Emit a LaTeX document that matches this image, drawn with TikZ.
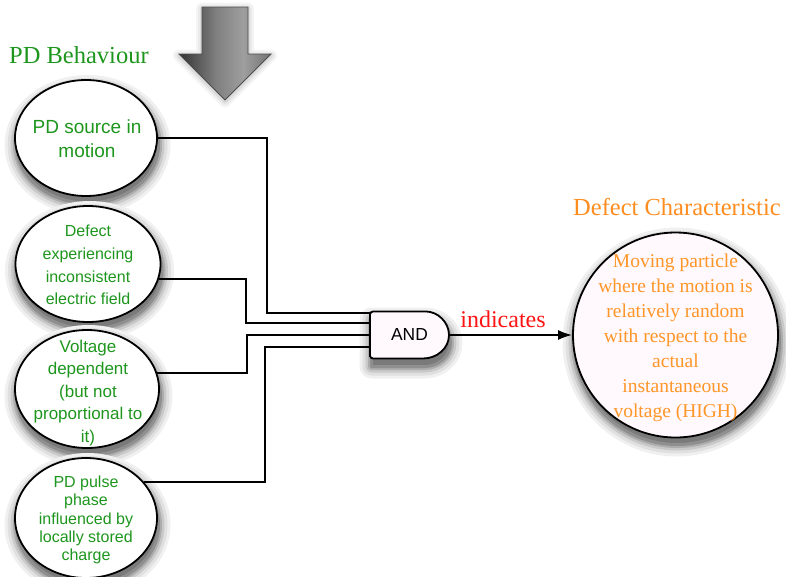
\documentclass[tikz,border=0pt]{standalone}
\usepackage{fontspec}
\setmainfont{Liberation Serif}
\setsansfont{Liberation Sans}
\usetikzlibrary{shapes.geometric,arrows.meta}

\definecolor{behgreen}{RGB}{30,150,30}
\definecolor{charorange}{RGB}{255,140,30}
\definecolor{circleorange}{RGB}{255,150,40}
\definecolor{pinkfill}{RGB}{255,248,252}
\definecolor{indred}{RGB}{255,20,20}

% grey gradient for the big downward arrow (active region 25bp..75bp)
\pgfdeclarehorizontalshading{arrowshade}{100bp}{%
  color(0bp)=(black!80); color(25bp)=(black!80);
  color(45bp)=(black!50); color(60bp)=(black!38);
  color(75bp)=(black!55); color(100bp)=(black!55)}

\tikzset{
  behaviour/.style={ellipse, draw=black, line width=1.8pt, fill=white, inner sep=0pt},
  behtext/.style={align=center, text=behgreen, font=\sffamily, inner sep=0pt},
  wire/.style={draw=black, line width=1.8pt},
}

% layered grey shadow of an oval: x, y of the centre, x radius, y radius
\newcommand{\ovalshade}[4]{%
  \foreach \w/\g in {24/6,18/12,12/21,7/32,3/44}{%
    \path[draw=black!\g, fill=black!52, line width=\w pt]
      (#1+1.5,#2+7) ellipse [x radius=#3pt, y radius=#4pt];}}

\begin{document}
\begin{tikzpicture}[x=1pt,y=-1pt]
\useasboundingbox (0,0) rectangle (786,576);

% heading and big arrow
\node[anchor=base west, text=behgreen, inner sep=0pt,
      font=\fontsize{24.5}{28}\selectfont] (pdb) at (9,63) {PD Behaviour};
\foreach \w/\g in {12/4,8/8,4/14}{%
  \path[draw=black!\g, line width=\w pt, line join=round]
    (202,8.5) -- (248,8.5) -- (248,55.5) -- (271,55.5) -- (225,101.5) -- (179,55.5)
    -- (202,55.5) -- cycle;}
\draw[draw=black!70, line width=0.8pt, shading=arrowshade]
  (202,7) -- (248,7) -- (248,54) -- (271,54) -- (225,100) -- (179,54)
  -- (202,54) -- cycle;

% shadows below the ovals and the gate
\ovalshade{86}{138}{71}{58}
\ovalshade{88}{264}{72.5}{58}
\ovalshade{87}{389}{72}{59}
\ovalshade{86}{518}{71}{60}
\ovalshade{675.5}{335}{102.5}{102.5}
\foreach \w/\g in {24/6,18/12,12/21,7/32,3/44}{%
  \path[draw=black!\g, fill=black!52, line width=\w pt, line join=round]
    (371.5,366.5) -- (371.5,319.5) -- (424.5,319.5)
    .. controls (438.9,319.5) and (450.5,330) .. (450.5,343)
    .. controls (450.5,356) and (438.9,366.5) .. (424.5,366.5) -- cycle;}

% gate body
\draw[line width=1.8pt, fill=pinkfill]
  (370,358.5) [rounded corners=3pt] -- (370,311.5) -- (423,311.5) [sharp corners]
  .. controls (437.4,311.5) and (449,322) .. (449,335)
  .. controls (449,348) and (437.4,358.5) .. (423,358.5)
  [rounded corners=3pt] -- (370,358.5) -- cycle;

% behaviour ellipses
\node[behaviour, minimum width=142pt, minimum height=116pt] (e1) at (86,138) {};
\node[behaviour, minimum width=145pt, minimum height=116pt] (e2) at (88,264) {};
\node[behaviour, minimum width=144pt, minimum height=118pt] (e3) at (87,389) {};
\node[behaviour, minimum width=142pt, minimum height=120pt] (e4) at (86,518) {};

\node[behtext, font=\sffamily\fontsize{19}{24}\selectfont] (t1) at (87,139)
  {PD source in\\motion};
\node[behtext, font=\sffamily\fontsize{16}{22.6}\selectfont] (t2) at (88,265)
  {Defect\\experiencing\\inconsistent\\electric field};
\node[behtext, font=\sffamily\fontsize{17}{22.5}\selectfont] (t3) at (88,393)
  {Voltage\\dependent\\(but not\\proportional to\\it)};
\node[behtext, font=\sffamily\fontsize{16}{18.3}\selectfont] (t4) at (86,520)
  {PD pulse\\phase\\influenced by\\locally stored\\charge};

% AND gate label
\node[minimum width=79pt, minimum height=47pt, inner sep=0pt,
      font=\sffamily\fontsize{17.4}{20}\selectfont] (and) at (409.5,335) {AND};

% defect characteristic
\node[anchor=base west, text=charorange, inner sep=0pt,
      font=\fontsize{24.5}{28}\selectfont] (dch) at (573,215) {Defect Characteristic};
\node[circle, draw=black, line width=1.8pt, fill=pinkfill, minimum size=205pt,
      inner sep=0pt] (dc) at (675.5,335) {};
\node[align=center, text=circleorange, inner sep=0pt,
      font=\fontsize{19.5}{25}\selectfont] (dct) at (675.5,338)
  {Moving particle\\where the motion is\\relatively random\\with respect to the\\actual\\instantaneous\\voltage (HIGH)};

% gate inputs
\coordinate (in1) at (370,313);
\coordinate (in2) at (370,323);
\coordinate (in3) at (370,335);
\coordinate (in4) at (370,347);

\draw[wire] (e1.east) -| ([xshift=-103pt]in1) -- (in1);
\draw[wire] (e2.-12) -| ([xshift=-124pt]in2) -- (in2);
\draw[wire] (e3.13) -| ([xshift=-123pt]in3) -- (in3);
\draw[wire] (e4.32) -| ([xshift=-105pt]in4) -- (in4);

\draw[wire, -{Latex[length=14pt,width=10pt]}] (and.east) -- (dc.west);
\node[anchor=base, text=indred, inner sep=0pt,
      font=\fontsize{24}{28}\selectfont] (ind) at (503,327) {indicates};
\end{tikzpicture}
\end{document}
